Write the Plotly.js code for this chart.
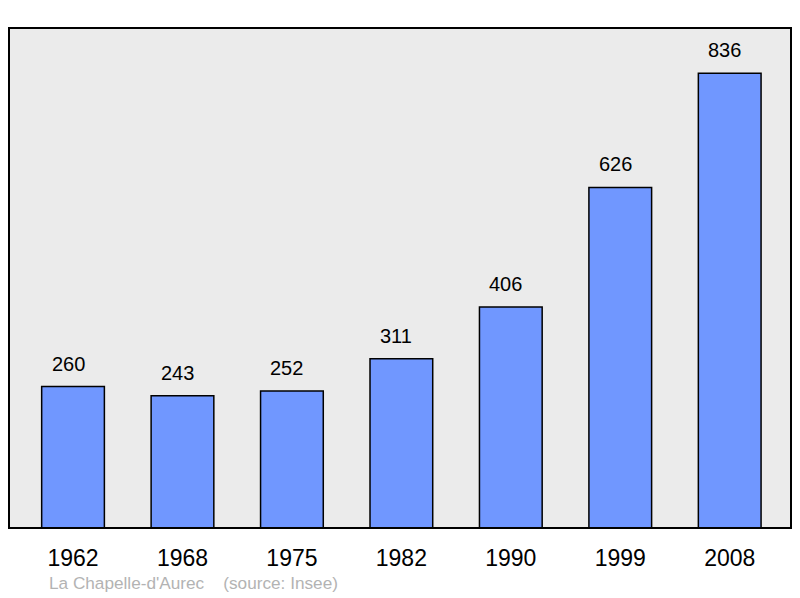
<!DOCTYPE html>
<html>
<head>
<meta charset="utf-8">
<script src="https://cdn.plot.ly/plotly-3.0.1.min.js"></script>
<style>html,body{margin:0;padding:0;background:#fff;}#chart{width:800px;height:598px;}</style>
</head>
<body>
<div id="chart"></div>
<script>
const years = ["1962", "1968", "1975", "1982", "1990", "1999", "2008"];
const population = [260, 243, 252, 311, 406, 626, 836];
const footerText = "La Chapelle-d'Aurec &nbsp;&nbsp;&nbsp;(source: Insee)";

const trace = {
  type: 'bar',
  x: years,
  y: population,
  width: 0.573,
  marker: {color: '#7097ff', line: {color: '#000', width: 1.5}},
  hoverinfo: 'none'
};

const valueAnnotations = years.map((yr, i) => ({
  x: i, y: population[i], xref: 'x', yref: 'y',
  text: String(population[i]), showarrow: false,
  yanchor: 'bottom', yshift: 10, xshift: -5,
  font: {family: 'Liberation Sans, Arial, sans-serif', size: 20, color: '#000'}
}));

const layout = {
  width: 800, height: 598,
  margin: {l: 9, r: 9, t: 28, b: 70},
  paper_bgcolor: '#fff',
  plot_bgcolor: '#ebebeb',
  showlegend: false,
  xaxis: {
    type: 'category',
    range: [-0.585, 6.56],
    showgrid: false, zeroline: false, showline: false,
    ticks: 'outside', ticklen: 9, tickcolor: 'rgba(0,0,0,0)',
    tickfont: {family: 'Liberation Sans, Arial, sans-serif', size: 23, color: '#000'},
    fixedrange: true
  },
  yaxis: {
    range: [0, 919],
    showgrid: false, zeroline: false, showline: false,
    showticklabels: false, ticks: '',
    fixedrange: true
  },
  shapes: [{
    type: 'rect', xref: 'paper', yref: 'paper', x0: 0, x1: 1, y0: 0, y1: 1,
    line: {color: '#000', width: 2}, fillcolor: 'rgba(0,0,0,0)'
  }],
  annotations: valueAnnotations.concat([{
    xref: 'paper', yref: 'paper', x: 0.048, y: -0.11,
    xanchor: 'left', yanchor: 'middle', showarrow: false,
    text: footerText,
    font: {family: 'Liberation Sans, Arial, sans-serif', size: 17.2, color: '#b3b3b3'}
  }])
};

Plotly.newPlot('chart', [trace], layout, {displayModeBar: false, staticPlot: true});
</script>
</body>
</html>
